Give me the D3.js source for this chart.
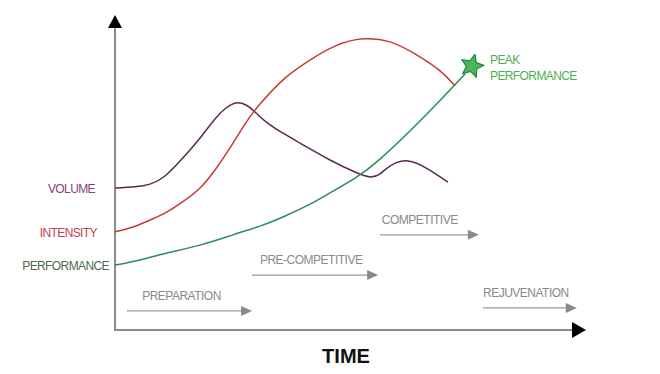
<!DOCTYPE html>
<html>
<head>
<meta charset="utf-8">
<script src="https://cdn.jsdelivr.net/npm/d3@7"></script>
<style>
  body { margin: 0; background: #fff; }
  svg { display: block; font-family: "Liberation Sans", Arial, sans-serif; }
</style>
</head>
<body>
<div id="master"></div>
<script>
// time runs 0..100 along the x axis, level 0..100 up the y axis
let volumeT = [0, 4.35, 7.61, 10.87, 14.78, 18.48, 21.74, 24.13, 26.3, 28.48, 30.43, 33.7, 40.22, 46.74, 52.17, 55.43, 57.61, 59.78, 63.7, 68.04, 72.39]
let volumeV = [47.0, 47.4, 48.3, 51.0, 57.0, 63.6, 69.9, 73.5, 75.2, 74.5, 72.2, 67.9, 61.9, 56.3, 52.3, 50.7, 51.7, 54.3, 56.0, 53.3, 49.0]

let intensityT = [0, 3.91, 7.61, 11.3, 15.22, 18.48, 21.74, 25.0, 28.26, 31.52, 36.96, 42.39, 47.83, 53.91, 59.78, 65.22, 70.65, 73.91]
let intensityV = [32.5, 34.1, 36.4, 39.1, 43.0, 47.0, 53.0, 60.3, 68.2, 74.8, 83.4, 89.4, 94.0, 96.4, 95.4, 91.4, 85.8, 80.8]

let perfT = [0, 5.43, 11.3, 18.48, 25.65, 31.52, 36.52, 42.39, 46.74, 52.17, 57.61, 64.78, 70.65, 76.09]
let perfV = [21.5, 23.2, 25.5, 28.1, 31.5, 34.4, 37.4, 41.7, 45.4, 50.3, 56.6, 66.9, 76.0, 84.8]

let seriesNames = ["VOLUME", "INTENSITY", "PERFORMANCE"]

let phaseNames = ["PREPARATION", "PRE-COMPETITIVE", "COMPETITIVE", "REJUVENATION"]
let phaseStart = [2.6, 29.8, 57.6, 80.0]
let phaseEnd = [29.8, 57.2, 79.1, 100.4]
let phaseLabelT = [5.9, 31.5, 58.0, 80.0]
let phaseLevel = [6.3, 18.2, 31.5, 7.3]

let peak = [77.6, 87.4]

let w = 660, h = 374

let svg = d3.select("#master").append("svg").attr("width", w).attr("height", h)

let x = d3.scaleLinear().domain([0, 100]).range([115, 575])
let y = d3.scaleLinear().domain([0, 100]).range([330, 28])

let gray = "#8c8c8c"

// axes
svg.append("line").attr("x1", x(0)).attr("x2", x(0)).attr("y1", y(0) + 1).attr("y2", y(100))
  .attr("stroke", gray).attr("stroke-width", 2)
svg.append("line").attr("x1", x(0) - 1).attr("x2", x(100)).attr("y1", y(0)).attr("y2", y(0))
  .attr("stroke", gray).attr("stroke-width", 2)
svg.append("path")
  .attr("d", `M${x(0) - 7},${y(100)} L${x(0) + 7},${y(100)} L${x(0)},${y(100) - 13} Z`)
  .attr("fill", "#000")
svg.append("path")
  .attr("d", `M${x(100) - 3},${y(0) - 8} L${x(100) - 3},${y(0) + 8} L${x(100) + 11},${y(0)} Z`)
  .attr("fill", "#000")

svg.append("text").attr("x", 346).attr("y", 363).attr("text-anchor", "middle")
  .attr("font-size", 20).attr("font-weight", "bold").attr("fill", "#111").text("TIME")

// phase arrows
let phases = phaseNames.map((n, i) => ({ name: n, s: phaseStart[i], e: phaseEnd[i], lt: phaseLabelT[i], v: phaseLevel[i] }))
let ph = svg.append("g").selectAll("g").data(phases).enter().append("g")
ph.append("line")
  .attr("x1", d => x(d.s)).attr("x2", d => x(d.e) - 8)
  .attr("y1", d => y(d.v)).attr("y2", d => y(d.v))
  .attr("stroke", "#9a9a9a").attr("stroke-width", 1.3)
ph.append("path")
  .attr("d", d => `M${x(d.e) - 11},${y(d.v) - 5} L${x(d.e) - 11},${y(d.v) + 5} L${x(d.e)},${y(d.v)} Z`)
  .attr("fill", "#8a8a8a")
ph.append("text")
  .attr("x", d => x(d.lt))
  .attr("y", d => y(d.v) - 11)
  .attr("font-size", 12).attr("letter-spacing", -0.5).attr("fill", "#8a8a8a")
  .text(d => d.name)

// curves
let line = d3.line().x(d => x(d[0])).y(d => y(d[1])).curve(d3.curveNatural)
let series = [
  { t: volumeT, v: volumeV, color: "#5a2a52", label: "#82427c", lx: 95 },
  { t: intensityT, v: intensityV, color: "#c93a32", label: "#c73d4e", lx: 97 },
  { t: perfT, v: perfV, color: "#2f8a55", label: "#4d6a4f", lx: 109 }
]
series.forEach((s, i) => {
  let pts = s.t.map((t, j) => [t, s.v[j]])
  svg.append("path").attr("d", line(pts)).attr("fill", "none")
    .attr("stroke", s.color).attr("stroke-width", 1.5)
  svg.append("text").attr("x", s.lx).attr("y", y(s.v[0]) + 5)
    .attr("text-anchor", "end").attr("font-size", 12).attr("letter-spacing", -0.6)
    .attr("fill", s.label).text(seriesNames[i])
})

// star for peak performance
let star = []
for (let k = 0; k < 10; k++) {
  let r = k % 2 == 0 ? 12 : 5.5
  let a = -Math.PI / 2 + k * Math.PI / 5 + 0.25
  star.push([x(peak[0]) + r * Math.cos(a), y(peak[1]) + r * Math.sin(a)])
}
svg.append("path").attr("d", "M" + star.join("L") + "Z")
  .attr("fill", "#4cb65f").attr("stroke", "#238a3c").attr("stroke-width", 1.3).attr("stroke-linejoin", "round")

let pk = svg.append("text").attr("x", 490).attr("font-size", 12).attr("letter-spacing", -0.6).attr("fill", "#4cb050")
pk.append("tspan").attr("x", 490).attr("y", 64).text("PEAK")
pk.append("tspan").attr("x", 490).attr("y", 80).text("PERFORMANCE")
</script>
</body>
</html>
